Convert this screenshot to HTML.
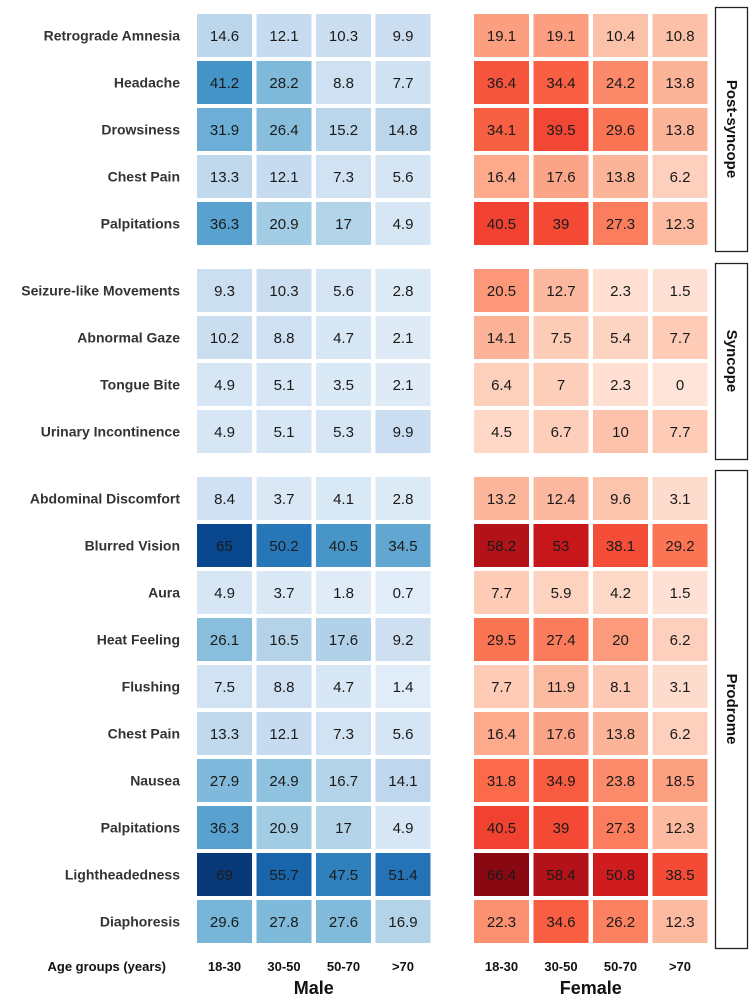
<!DOCTYPE html>
<html><head><meta charset="utf-8"><style>
body{margin:0;background:#fff;}
svg{display:block;font-family:"Liberation Sans",Arial,sans-serif;}
</style></head><body>
<svg id="chart" width="750" height="999" viewBox="0 0 750 999" xmlns="http://www.w3.org/2000/svg"></svg>
<script>
const symptoms = ["Retrograde Amnesia","Headache","Drowsiness","Chest Pain","Palpitations",
"Seizure-like Movements","Abnormal Gaze","Tongue Bite","Urinary Incontinence",
"Abdominal Discomfort","Blurred Vision","Aura","Heat Feeling","Flushing","Chest Pain","Nausea","Palpitations","Lightheadedness","Diaphoresis"];
const groupOfRow = [0,0,0,0,0,1,1,1,1,2,2,2,2,2,2,2,2,2,2];
const groups = ["Post-syncope","Syncope","Prodrome"];
const ageGroups = ["18-30","30-50","50-70",">70"];
const maleValues = [
[14.6,12.1,10.3,9.9],[41.2,28.2,8.8,7.7],[31.9,26.4,15.2,14.8],[13.3,12.1,7.3,5.6],[36.3,20.9,17,4.9],
[9.3,10.3,5.6,2.8],[10.2,8.8,4.7,2.1],[4.9,5.1,3.5,2.1],[4.9,5.1,5.3,9.9],
[8.4,3.7,4.1,2.8],[65,50.2,40.5,34.5],[4.9,3.7,1.8,0.7],[26.1,16.5,17.6,9.2],[7.5,8.8,4.7,1.4],
[13.3,12.1,7.3,5.6],[27.9,24.9,16.7,14.1],[36.3,20.9,17,4.9],[69,55.7,47.5,51.4],[29.6,27.8,27.6,16.9]];
const femaleValues = [
[19.1,19.1,10.4,10.8],[36.4,34.4,24.2,13.8],[34.1,39.5,29.6,13.8],[16.4,17.6,13.8,6.2],[40.5,39,27.3,12.3],
[20.5,12.7,2.3,1.5],[14.1,7.5,5.4,7.7],[6.4,7,2.3,0],[4.5,6.7,10,7.7],
[13.2,12.4,9.6,3.1],[58.2,53,38.1,29.2],[7.7,5.9,4.2,1.5],[29.5,27.4,20,6.2],[7.7,11.9,8.1,3.1],
[16.4,17.6,13.8,6.2],[31.8,34.9,23.8,18.5],[40.5,39,27.3,12.3],[66.4,58.4,50.8,38.5],[22.3,34.6,26.2,12.3]];

const BLUES=["#f7fbff","#deebf7","#c6dbef","#9ecae1","#6baed6","#4292c6","#2171b5","#08519c","#08306b"];
const REDS=["#fff5f0","#fee0d2","#fcbba1","#fc9272","#fb6a4a","#ef3b2c","#cb181d","#a50f15","#67000d"];
function hex(c){return [1,3,5].map(i=>parseInt(c.substr(i,2),16));}
function cmap(stops,v){let t=Math.max(0,Math.min(1,0.1+v*0.0125));let p=t*(stops.length-1);let i=Math.min(stops.length-2,Math.floor(p));let f=p-i;
 const a=hex(stops[i]),b=hex(stops[i+1]);return "rgb("+a.map((x,k)=>Math.round(x+(b[k]-x)*f)).join(",")+")";}
const groupTop=[14,269,477], rowStep=47, cellH=43;
function rowY(r){const g=groupOfRow[r];const first=groupOfRow.indexOf(g);return groupTop[g]+(r-first)*rowStep;}
const maleX0=197, femaleX0=474, colStep=59.5, cellW=55;
function colX(panel,c){return (panel===0?maleX0:femaleX0)+c*colStep;}
const svg=document.getElementById("chart");const NS="http://www.w3.org/2000/svg";
function mk(tag,attrs,text){const e=document.createElementNS(NS,tag);for(const k in attrs)e.setAttribute(k,attrs[k]);if(text!==undefined)e.textContent=text;svg.appendChild(e);return e;}

symptoms.forEach((s,r)=>{
 const y=rowY(r);
 const l=mk("text",{x:180,y:y+cellH/2+5,"text-anchor":"end","font-size":"14","font-weight":"bold",fill:"#333"},s);
 
 
 [maleValues,femaleValues].forEach((vals,p)=>{
  vals[r].forEach((v,c)=>{
   const x=colX(p,c);
   const rc=mk("rect",{x:x,y:y,width:cellW,height:cellH,fill:cmap(p===0?BLUES:REDS,v)});
   
   
   const t=mk("text",{x:x+cellW/2,y:y+cellH/2+5.5,"text-anchor":"middle","font-size":"15",fill:"#1a1a1a"},String(v));
   
   
  });
 });
});
const boxes=[[7,251],[263,459],[470,948]];
groups.forEach((g,i)=>{
 const b=mk("rect",{x:715.5,y:boxes[i][0]+0.5,width:32,height:boxes[i][1]-boxes[i][0],fill:"none",stroke:"#222","stroke-width":"1.3"});
 
 
 const cy=(boxes[i][0]+boxes[i][1])/2;
 const t=mk("text",{x:731.5,y:cy,"text-anchor":"middle","dominant-baseline":"central","font-size":"15","font-weight":"bold",fill:"#111",transform:"rotate(90 731.5 "+cy+")"},g);
 
 
});
[0,1].forEach(p=>{
 ageGroups.forEach((a,c)=>{
  const t=mk("text",{x:colX(p,c)+cellW/2,y:971,"text-anchor":"middle","font-size":"13","font-weight":"bold",fill:"#111"},a);
  
  
 });
 const tt=mk("text",{x:colX(p,0)+(3*colStep+cellW)/2,y:994,"text-anchor":"middle","font-size":"18","font-weight":"bold",fill:"#111"},p===0?"Male":"Female");
 
 
});
const ag=mk("text",{x:166,y:971,"text-anchor":"end","font-size":"13","font-weight":"bold",fill:"#111"},"Age groups (years)");


</script>
</body></html>
